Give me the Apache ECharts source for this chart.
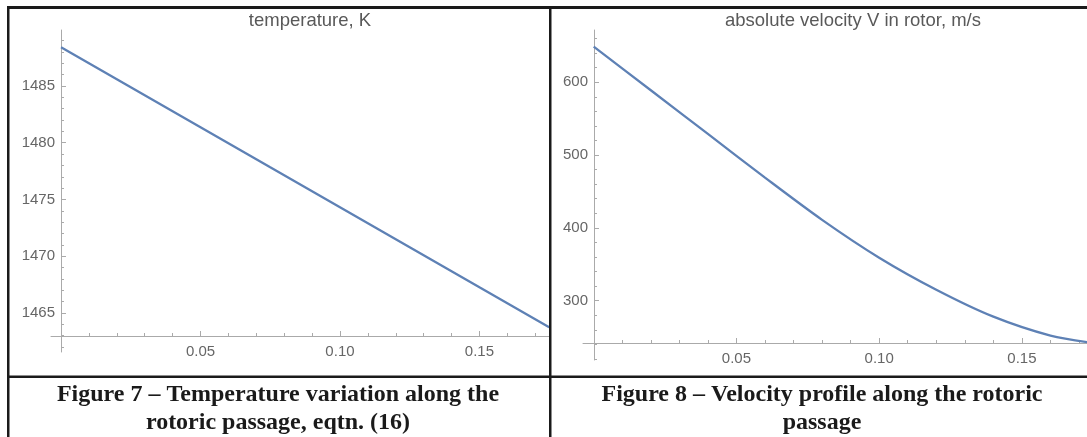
<!DOCTYPE html>
<html><head><meta charset="utf-8">
<script src="https://cdn.jsdelivr.net/npm/echarts@6.0.0/dist/echarts.min.js"></script>
<style>html,body{margin:0;padding:0;background:#fff}#c{width:1087px;height:437px}</style>
</head><body><div id="c"></div>
<script>
// ---- data ----
const tempX = [0, 0.025, 0.05, 0.075, 0.1, 0.125, 0.15, 0.175];
const tempK = [1488.4, 1484.88, 1481.36, 1477.83, 1474.31, 1470.79, 1467.26, 1463.74];
const velX = [0, 0.02, 0.04, 0.06, 0.08, 0.10, 0.12, 0.14, 0.16, 0.175];
const velV = [649, 589, 529, 469, 411, 359, 315, 278, 252, 242];
const xTicks = [0.05, 0.10, 0.15];
const tempTicks = [1465, 1470, 1475, 1480, 1485];
const velTicks = [300, 400, 500, 600];
const plotTitles = ['temperature, K', 'absolute velocity V in rotor, m/s'];
const captions = ['Figure 7 \u2013 Temperature variation along the\nrotoric passage, eqtn. (16)',
                  'Figure 8 \u2013 Velocity profile along the rotoric\npassage'];

const axisColor = '#aaaaaa';
const labelColor = '#666666';
const lineColor = '#5e81b5';
const sans = 'Liberation Sans, Arial, sans-serif';
const serif = 'Liberation Serif, Times New Roman, serif';

function xAxisDef(gi, min, max, offset) {
  return {
    type: 'value', gridIndex: gi, min: min, max: max, splitNumber: 3, offset: offset,
    axisLine: { onZero: false, lineStyle: { color: axisColor, width: 1 } },
    axisTick: { inside: true, length: 5, customValues: xTicks, lineStyle: { color: axisColor } },
    minorTick: { show: true, splitNumber: 5, length: 3, lineStyle: { color: axisColor } },
    splitLine: { show: false },
    axisLabel: { margin: 8, fontSize: 15, color: labelColor, fontFamily: sans, customValues: xTicks,
      formatter: v => v.toFixed(2) }
  };
}
function yAxisDef(gi, min, max, ticks, offset) {
  return {
    type: 'value', gridIndex: gi, min: min, max: max, splitNumber: 5, offset: offset,
    axisLine: { onZero: false, lineStyle: { color: axisColor, width: 1 } },
    axisTick: { inside: true, length: 5, customValues: ticks, lineStyle: { color: axisColor } },
    minorTick: { show: true, splitNumber: 5, length: 3, lineStyle: { color: axisColor } },
    splitLine: { show: false },
    axisLabel: { margin: 6, fontSize: 15, color: labelColor, fontFamily: sans, customValues: ticks,
      formatter: v => String(v) }
  };
}

const titleStyle = { fontSize: 18.5, fontWeight: 'normal', color: '#595959', fontFamily: sans };
const capStyle = { fontSize: 24, fontWeight: 'bold', color: '#1a1a1a', fontFamily: serif, lineHeight: 28 };

const chart = echarts.init(document.getElementById('c'), null, { renderer: 'canvas' });
chart.setOption({
  backgroundColor: '#ffffff',
  animation: false,
  title: [
    { text: plotTitles[0], left: 310, top: 11, textAlign: 'center', padding: 0, textStyle: titleStyle },
    { text: plotTitles[1], left: 853, top: 11, textAlign: 'center', padding: 0, textStyle: titleStyle },
    { text: captions[0], left: 278, top: 381, textAlign: 'center', padding: 0, textStyle: capStyle },
    { text: captions[1], left: 822, top: 381, textAlign: 'center', padding: 0, textStyle: capStyle }
  ],
  grid: [
    { left: 51, right: 537, top: 30, bottom: 85, containLabel: false },
    { left: 583, right: 0, top: 30, bottom: 77, containLabel: false }
  ],
  xAxis: [ xAxisDef(0, -0.0036, 0.1753, -16), xAxisDef(1, -0.00375, 0.1728, -17) ],
  yAxis: [ yAxisDef(0, 1461.56, 1489.93, tempTicks, -10), yAxisDef(1, 218.5, 671.8, velTicks, -11) ],
  series: [
    { type: 'line', xAxisIndex: 0, yAxisIndex: 0, data: tempX.map((x, i) => [x, tempK[i]]),
      showSymbol: false, smooth: false, lineStyle: { color: lineColor, width: 2.3 } },
    { type: 'line', xAxisIndex: 1, yAxisIndex: 1, data: velX.map((x, i) => [x, velV[i]]),
      showSymbol: false, smooth: 0.3, lineStyle: { color: lineColor, width: 2.3 } }
  ],
  graphic: [
    { type: 'rect', shape: { x: 7, y: 6, width: 1080, height: 3 }, style: { fill: '#1a1a1a' }, z: 100 },
    { type: 'rect', shape: { x: 7, y: 6, width: 2.5, height: 431 }, style: { fill: '#1a1a1a' }, z: 100 },
    { type: 'rect', shape: { x: 549, y: 6, width: 2.5, height: 431 }, style: { fill: '#1a1a1a' }, z: 100 },
    { type: 'rect', shape: { x: 7, y: 375.5, width: 1080, height: 2.5 }, style: { fill: '#1a1a1a' }, z: 100 }
  ]
});
</script></body></html>
